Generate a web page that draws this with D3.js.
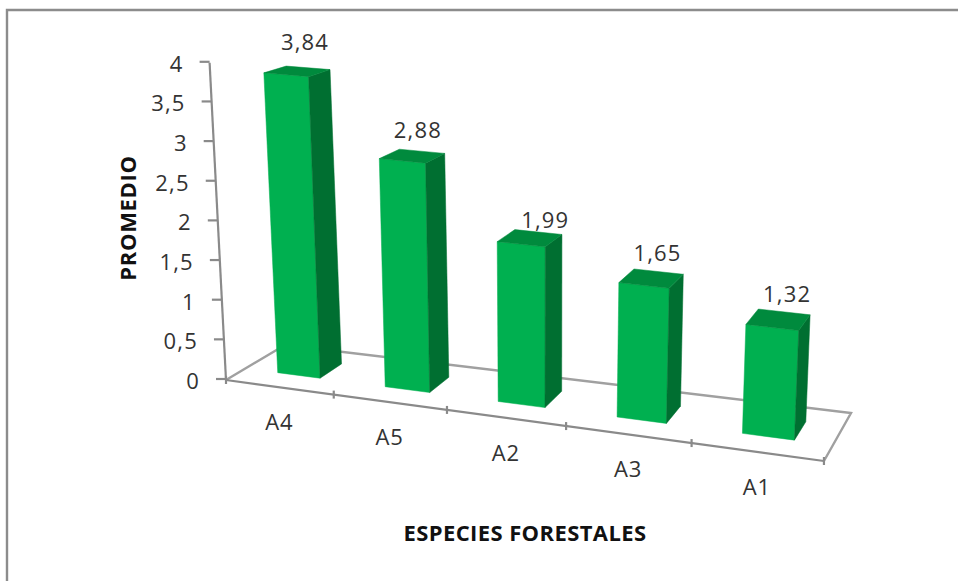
<!DOCTYPE html>
<html>
<head>
<meta charset="utf-8">
<script src="https://cdnjs.cloudflare.com/ajax/libs/d3/7.8.5/d3.min.js"></script>
<style>
  html, body { margin: 0; padding: 0; background: #fff; }
  svg { display: block; }
  text { font-family: "Open Sans", sans-serif; fill: #333; }
</style>
</head>
<body>
<svg id="chart" width="958" height="581"></svg>
<script>
const categories = ["A4", "A5", "A2", "A3", "A1"];
const promedio = [3.84, 2.88, 1.99, 1.65, 1.32];
const valueDomain = [0, 4];
const axisTitleY = "PROMEDIO";
const axisTitleX = "ESPECIES FORESTALES";

const svg = d3.select("#chart");
const comma = d3.formatLocale({ decimal: ",", thousands: ".", grouping: [3], currency: ["", ""] });
const fmtTick = comma.format("~g");
const fmtValue = comma.format(".2f");

// Category position along the floor, 0 at the left wall and 5 at the right edge.
const band = d3.scaleBand().domain(categories).range([0.01, 5.01]).paddingInner(0.6).paddingOuter(0.3);
const value = d3.scaleLinear().domain(valueDomain).range([0, 4]);

// Floor perspective: positions grow towards the right end of the category axis.
const persp = u => 1 - 0.02414 * u;
const front = u => [(99.7 * u + 226) / persp(u), (5.07 * u + 380) / persp(u)];
const back = u => [(92.66 * u + 285) / persp(u), (3.63 * u + 345) / persp(u)];

// Vertical scale and lean of the upright edges, both varying along the floor.
const unitHeight = d3.scaleLinear().domain([0, 5]).range([79.3, 85]);
const unitLean = d3.scaleLinear().domain([0, 5]).range([-4.1, 3.7]);

// Maps category position u, depth d (0 front, 1 back) and value v to the page.
function project(u, d, v) {
  const f = front(u), b = back(u), h = value(v);
  return [
    f[0] + (b[0] - f[0]) * d + h * unitLean(u),
    f[1] + (b[1] - f[1]) * d - h * unitHeight(u) * (1 - 0.06 * d)
  ];
}

const axisColor = "#8a8a8a";
const pathOf = pts => "M" + pts.map(p => p.join(",")).join("L") + "Z";

// Chart frame: only the top and left edges fall inside the page.
svg.append("path").attr("d", "M7,581V10H958").attr("fill", "none")
  .attr("stroke", "#8c8c8c").attr("stroke-width", 2.4);

// Floor outline behind the bars.
const floor = [[0, 0], [0, 1], [5, 1], [5, 0]].map(([u, d]) => project(u, d, 0));
svg.append("path").attr("d", "M" + floor.map(p => p.join(",")).join("L"))
  .attr("fill", "none").attr("stroke", "#a0a0a0").attr("stroke-width", 2.4);

// Bars: front, side and top faces.
const depthFront = 0.33, depthBack = 0.72;
const bars = svg.append("g").selectAll("g").data(categories).join("g");
const uL = c => band(c);
const uR = c => band(c) + band.bandwidth();
const val = c => promedio[categories.indexOf(c)];
const face = (sel, color, corners) => sel.append("path")
  .attr("fill", color).attr("stroke", color).attr("stroke-width", 0.5)
  .attr("d", c => pathOf(corners(c)));

face(bars, "#00b050", c => [
  project(uL(c), depthFront, 0), project(uR(c), depthFront, 0),
  project(uR(c), depthFront, val(c)), project(uL(c), depthFront, val(c))
]);
face(bars, "#006f31", c => [
  project(uR(c), depthFront, 0), project(uR(c), depthBack, 0),
  project(uR(c), depthBack, val(c)), project(uR(c), depthFront, val(c))
]);
face(bars, "#008a3d", c => [
  project(uL(c), depthFront, val(c)), project(uR(c), depthFront, val(c)),
  project(uR(c), depthBack, val(c)), project(uL(c), depthBack, val(c))
]);

// Value labels above each bar; small nudges keep them clear of the top faces.
const labelNudge = [[-3, -27], [-4, -22], [7, -13], [-1, -20], [3, -19]];
svg.append("g").selectAll("text").data(categories).join("text")
  .attr("text-anchor", "middle").attr("dominant-baseline", "central")
  .attr("font-size", 22).attr("letter-spacing", 1.2)
  .attr("x", (c, i) => project(band(c) + band.bandwidth() / 2, depthBack, val(c))[0] + labelNudge[i][0])
  .attr("y", (c, i) => project(band(c) + band.bandwidth() / 2, depthBack, val(c))[1] + labelNudge[i][1])
  .text(c => fmtValue(val(c)));

// Value axis along the left wall.
const yAxis = svg.append("g");
const axisTop = project(0, 0, valueDomain[1]), axisBottom = project(0, 0, valueDomain[0]);
yAxis.append("line").attr("x1", axisTop[0]).attr("y1", axisTop[1]).attr("x2", axisBottom[0]).attr("y2", axisBottom[1])
  .attr("stroke", axisColor).attr("stroke-width", 2.2);
value.ticks(8).forEach(t => {
  const p = project(0, 0, t);
  yAxis.append("line").attr("x1", p[0] - 10).attr("x2", p[0]).attr("y1", p[1] - 1).attr("y2", p[1] - 1)
    .attr("stroke", axisColor).attr("stroke-width", 2.2);
  yAxis.append("text").attr("x", p[0] - 26).attr("y", p[1])
    .attr("text-anchor", "end").attr("dominant-baseline", "central")
    .attr("font-size", 22).attr("letter-spacing", 1.2).text(fmtTick(t));
});

// Category axis along the front of the floor.
const xAxis = svg.append("g");
xAxis.append("line")
  .attr("x1", front(0)[0]).attr("y1", front(0)[1]).attr("x2", front(5)[0]).attr("y2", front(5)[1])
  .attr("stroke", axisColor).attr("stroke-width", 2.2);
d3.range(0, 6).forEach(u => {
  const p = front(u);
  xAxis.append("line").attr("x1", p[0]).attr("x2", p[0]).attr("y1", p[1] - 4).attr("y2", p[1] + 4)
    .attr("stroke", axisColor).attr("stroke-width", 2.2);
});
xAxis.selectAll("text").data(categories).join("text")
  .attr("x", (c, i) => front(i + 0.5)[0])
  .attr("y", (c, i) => front(i + 0.5)[1] + 34)
  .attr("text-anchor", "middle").attr("dominant-baseline", "central")
  .attr("font-size", 22).attr("letter-spacing", 0.8).text(c => c);

// Axis titles.
svg.append("text").attr("transform", "translate(127,218) rotate(-90)")
  .attr("text-anchor", "middle").attr("dominant-baseline", "central")
  .attr("font-size", 22).attr("font-weight", 700).attr("letter-spacing", 0.7).style("fill", "#111")
  .text(axisTitleY);
svg.append("text").attr("x", 525).attr("y", 532)
  .attr("text-anchor", "middle").attr("dominant-baseline", "central")
  .attr("font-size", 22).attr("font-weight", 700).attr("letter-spacing", 0.4).style("fill", "#111")
  .text(axisTitleX);
</script>
</body>
</html>
